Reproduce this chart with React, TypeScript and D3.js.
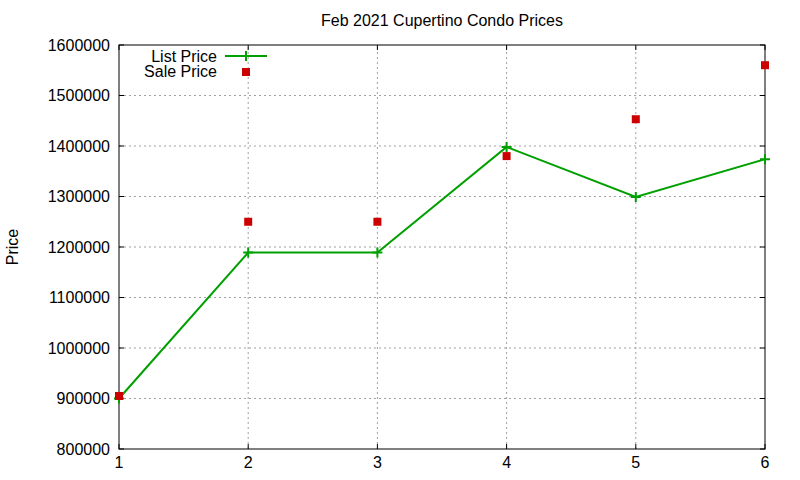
import React from 'react';
import * as d3 from 'd3';

const months = [1, 2, 3, 4, 5, 6];
const listPrice = [900000, 1189000, 1189000, 1398000, 1299000, 1374000];
const salePrice = [905000, 1250000, 1250000, 1380000, 1453000, 1560000];
const yTicks = [800000, 900000, 1000000, 1100000, 1200000, 1300000, 1400000, 1500000, 1600000];

const W = 800;
const H = 480;
const margin = { top: 45, right: 35, bottom: 31, left: 119 };
const FONT = '"Liberation Sans", Arial, sans-serif';
const GREEN = '#00a000';
const RED = '#cc0000';

const App: React.FC = () => {
  const x = d3.scaleLinear().domain([1, 6]).range([margin.left, W - margin.right]);
  const y = d3.scaleLinear().domain([800000, 1600000]).range([H - margin.bottom, margin.top]);
  const line = d3.line<number>().x((_, i) => x(months[i])).y(d => y(d));

  const x0 = x.range()[0];
  const x1 = x.range()[1];
  const y0 = y.range()[0];
  const y1 = y.range()[1];
  const tick = 5;

  return (
    <div style={{ position: 'fixed', left: 0, top: 0 }}>
      <svg width={W} height={H} style={{ display: 'block', background: '#fff' }} fontFamily={FONT}>
        {/* grid */}
        {yTicks.slice(1, -1).map(t => (
          <line key={'gy' + t} x1={x0} x2={x1} y1={y(t)} y2={y(t)}
            stroke="#a0a0a0" strokeWidth={1} strokeDasharray="2,3" />
        ))}
        {months.slice(1, -1).map(m => (
          <line key={'gx' + m} x1={x(m)} x2={x(m)} y1={y0} y2={y1}
            stroke="#a0a0a0" strokeWidth={1} strokeDasharray="2,3" />
        ))}

        {/* ticks, mirrored */}
        {yTicks.map(t => (
          <g key={'ty' + t}>
            <line x1={x0} x2={x0 + tick} y1={y(t)} y2={y(t)} stroke="#000" />
            <line x1={x1 - tick} x2={x1} y1={y(t)} y2={y(t)} stroke="#000" />
            <text x={x0 - 9} y={y(t)} dy="0.35em" textAnchor="end" fontSize={16} fill="#000">{t}</text>
          </g>
        ))}
        {months.map(m => (
          <g key={'tx' + m}>
            <line x1={x(m)} x2={x(m)} y1={y0} y2={y0 - tick} stroke="#000" />
            <line x1={x(m)} x2={x(m)} y1={y1} y2={y1 + tick} stroke="#000" />
            <text x={x(m)} y={y0 + 19} textAnchor="middle" fontSize={16} fill="#000">{m}</text>
          </g>
        ))}

        {/* border */}
        <rect x={x0} y={y1} width={x1 - x0} height={y0 - y1} fill="none" stroke="#000" strokeWidth={1} />

        {/* list price */}
        <path d={line(listPrice) || ''} fill="none" stroke={GREEN} strokeWidth={2} />
        {listPrice.map((v, i) => (
          <path key={'lp' + i} d={`M${x(months[i]) - 5},${y(v)}h10M${x(months[i])},${y(v) - 5}v10`}
            stroke={GREEN} strokeWidth={2} />
        ))}

        {/* sale price */}
        {salePrice.map((v, i) => (
          <rect key={'sp' + i} x={x(months[i]) - 4} y={y(v) - 4} width={8} height={8} fill={RED} />
        ))}

        {/* legend */}
        <text x={217} y={56} dy="0.35em" textAnchor="end" fontSize={16} fill="#000">List Price</text>
        <line x1={225} x2={267} y1={56} y2={56} stroke={GREEN} strokeWidth={2} />
        <path d="M241,56h10M246,51v10" stroke={GREEN} strokeWidth={2} />
        <text x={217} y={71} dy="0.35em" textAnchor="end" fontSize={16} fill="#000">Sale Price</text>
        <rect x={242} y={68} width={8} height={8} fill={RED} />

        {/* titles */}
        <text x={(x0 + x1) / 2} y={26} textAnchor="middle" fontSize={16} fill="#000">Feb 2021 Cupertino Condo Prices</text>
        <text transform={`translate(18,${(y0 + y1) / 2}) rotate(-90)`} textAnchor="middle" fontSize={16} fill="#000">Price</text>
      </svg>
    </div>
  );
};

export default App;
